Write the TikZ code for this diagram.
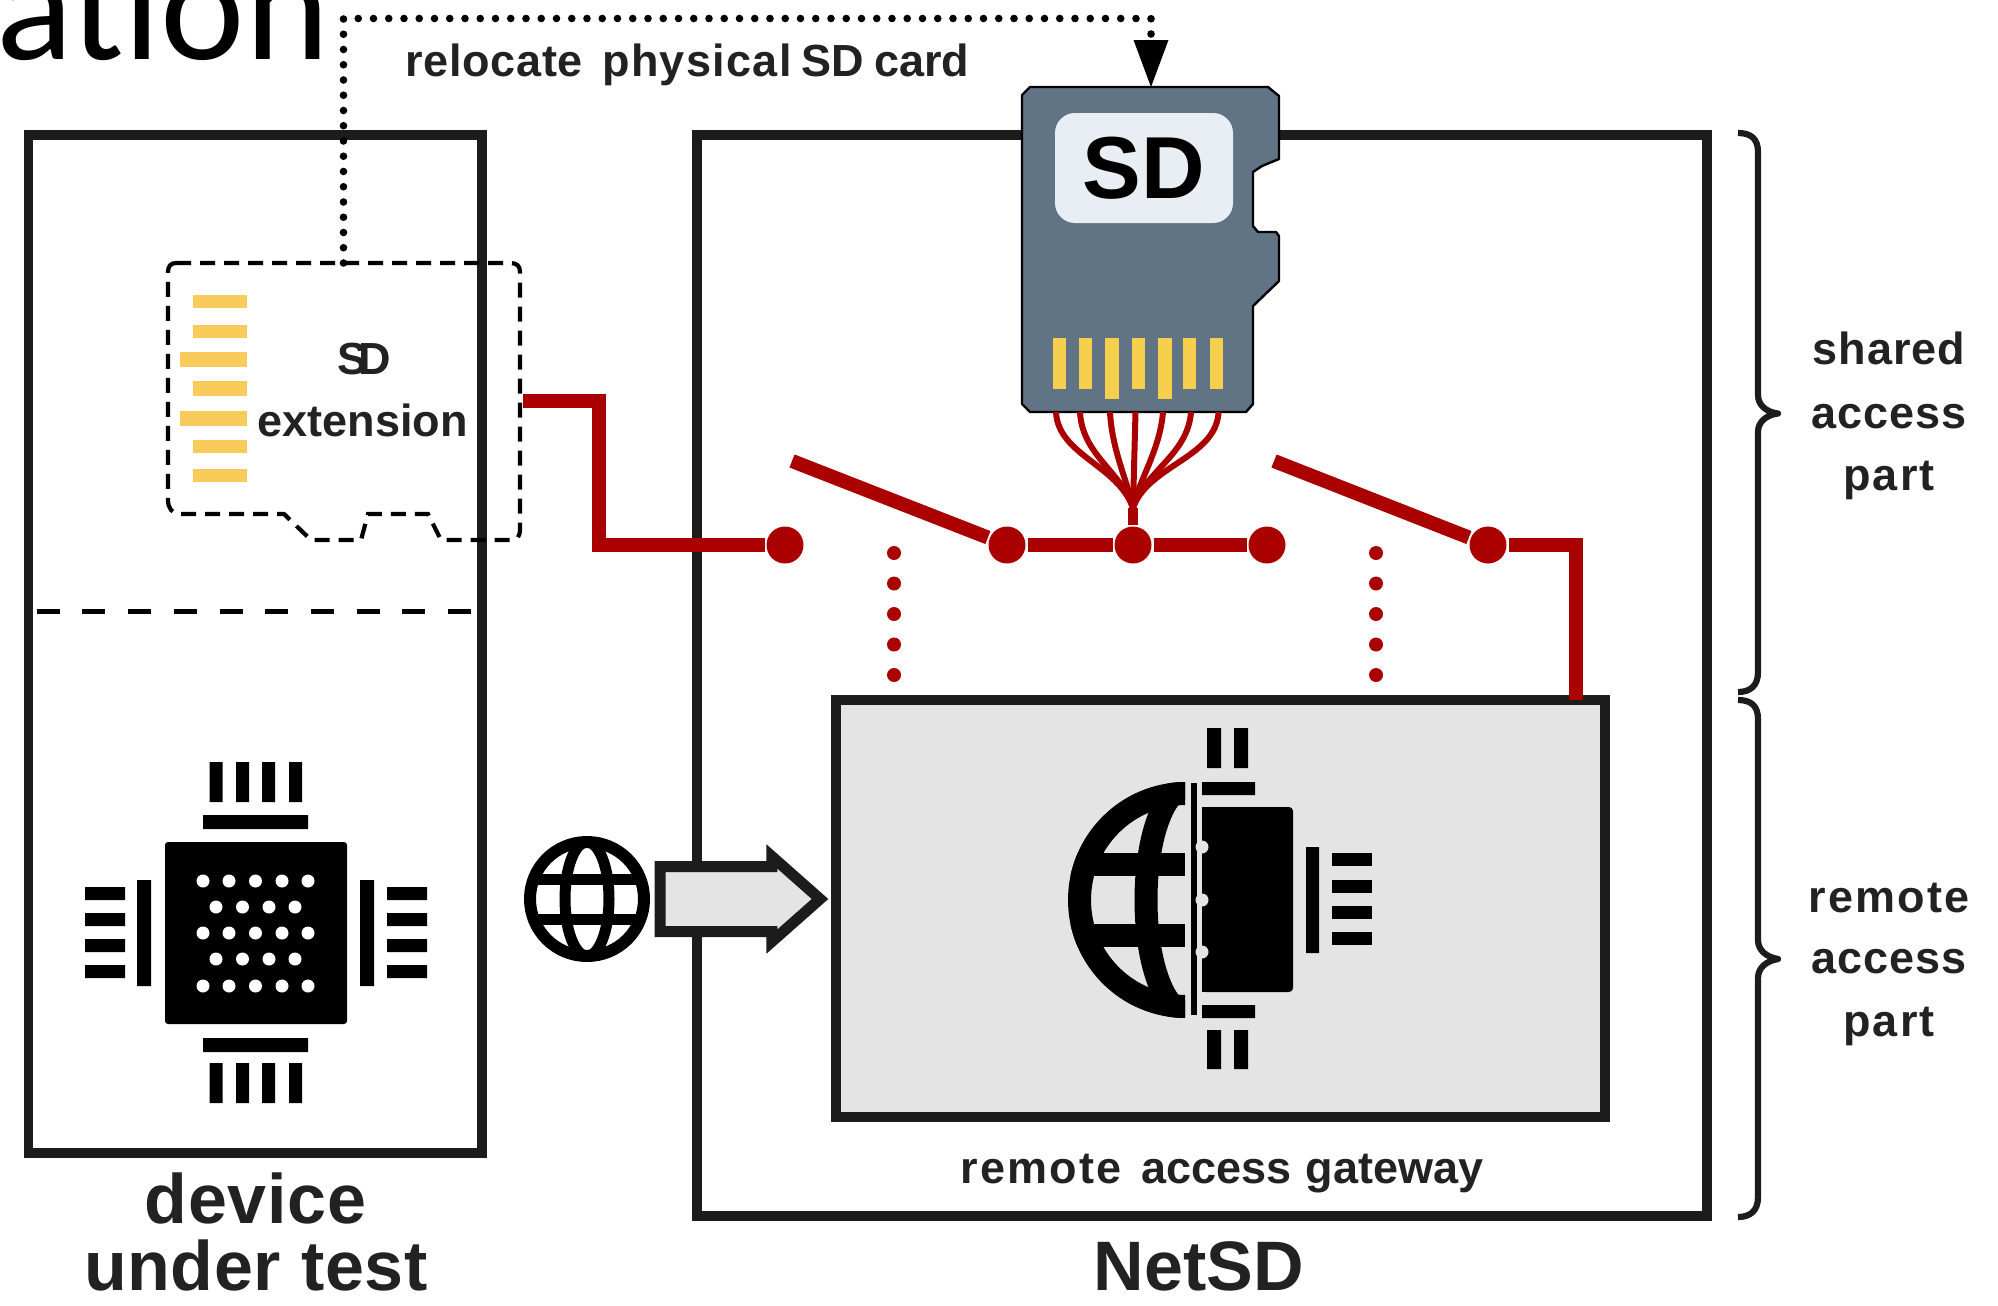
\documentclass[tikz,border=0pt]{standalone}
\usepackage{fontspec}
\setmainfont{Liberation Sans}
\newfontfamily\titlefont{Carlito}
\usetikzlibrary{arrows.meta,shapes.arrows}
\definecolor{ink}{HTML}{1C1C1C}
\definecolor{txt}{HTML}{222222}
\definecolor{wire}{HTML}{AB0000}
\definecolor{panel}{HTML}{E4E4E4}
\definecolor{cardgrey}{HTML}{607486}
\definecolor{cardlab}{HTML}{E8EEF3}
\definecolor{goldcard}{HTML}{F6D04D}
\definecolor{goldext}{HTML}{F8CB5A}
\tikzset{
  framebox/.style={draw=ink,line width=4.75pt,inner sep=0pt,outer sep=0pt},
  lab/.style={font=\bfseries\fontsize{22.5}{31.5}\selectfont,text=txt,inner sep=0pt,anchor=base},
  biglab/.style={font=\bfseries\fontsize{35}{33.5}\selectfont,text=txt,inner sep=0pt,anchor=base},
  redline/.style={draw=wire,line width=7pt,miter limit=10},
  pad/.style={circle,fill=wire,minimum size=18.5pt,inner sep=0pt,outer sep=1pt},
  mech/.style={draw=wire,line width=7pt,line cap=round,dash pattern=on 0pt off 15.25pt},
  fan/.style={draw=wire,line width=3pt},
  bracepath/.style={draw=ink,line width=3.1pt,line join=round},
  reloc/.style={draw=black,line width=3.8pt,line cap=round,dash pattern=on 0pt off 7.625pt,
    -{Triangle[length=23.5pt,width=17.5pt,line width=0pt]}},
}
\begin{document}
\begin{tikzpicture}[x=0.5pt,y=-0.5pt]
\clip (0,0) rectangle (1998,1306);
% title fragment
\node[font=\titlefont\fontsize{80}{82}\selectfont,anchor=base west,inner sep=0pt,text=black] (title) at (-4,59) {ation};
% main frames
\node[framebox,minimum width=226.75pt,minimum height=509pt,anchor=north west] (dut) at (28.5,135) {};
\node[framebox,minimum width=505pt,minimum height=540.5pt,anchor=north west] (netsd) at (697,135) {};
\node[framebox,fill=panel,minimum width=384.5pt,minimum height=208.5pt,anchor=north west] (gateway) at (836,700) {};
% divider in device under test
\coordinate (divA) at (36.7,611.7);
\coordinate (divB) at (471,611.7);
\draw[black,line width=2.5pt,dash pattern=on 11.5pt off 11.35pt] (divA) -- (divB);
% SD extension outline
\draw[black,line width=2.1pt,dash pattern=on 7.5pt off 4.5pt]
  (176,263) -- (510,263) .. controls (517,263) and (520,266) .. (520,272)
  -- (520,530) .. controls (520,536) and (517,540) .. (512,540)
  -- (441,540) -- (428,514) -- (368,514) -- (361,540) -- (311,540) -- (284,514) -- (180,514)
  .. controls (172,514) and (168,508) .. (168,500) -- (168,272) .. controls (168,266) and (171,263) .. (176,263);
\foreach \xa/\yy/\hh in {193/301.5/13,193/331/13,180/359/15,193/388.5/15,180/418/15,193/446/13,193/475/13}
  \fill[goldext] (\xa,\yy-\hh/2) rectangle (246.5,\yy+\hh/2);
\node[lab] (extSD) at (364,374) {S\kern-4.5pt D};
\node[lab] (extName) at (362.5,436) {extension};
% chip in the device
\fill[black,rounded corners=1.5pt] (165,842) rectangle (347,1024);
\fill[black] (203,815) rectangle (308,829) (203,1038) rectangle (308,1052)
  (137,880) rectangle (151,986) (360,880) rectangle (374,986);
\foreach \xa in {209.5,236,262,289} \fill[black] (\xa,762) rectangle (\xa+13,802) (\xa,1063) rectangle (\xa+13,1103);
\foreach \yy in {887,913,939,965} \fill[black] (85,\yy) rectangle (125,\yy+13) (387,\yy) rectangle (427,\yy+13);
\foreach \yy in {881,933,986} \foreach \xa in {203,229,255.5,282,308} \fill[white] (\xa,\yy) circle[radius=6.5];
\foreach \yy in {907,959} \foreach \xa in {216,242.5,269,295} \fill[white] (\xa,\yy) circle[radius=6.5];
% globe
\coordinate (globe) at (587,899);
\begin{scope}
  \clip (globe) circle[radius=62];
  \draw[black,line width=5.5pt] (530,879) -- (644,879) (530,919) -- (644,919);
  \draw[black,line width=5.5pt] (globe) ellipse[x radius=22,y radius=57];
\end{scope}
\draw[black,line width=6pt] (globe) circle[radius=57];
% arrow from globe to gateway
\node[single arrow,draw=ink,fill=panel,line width=5.5pt,inner xsep=0pt,inner ysep=13.5pt,outer sep=0pt,
  minimum height=80pt,single arrow head extend=5pt,single arrow tip angle=83,anchor=tail,miter limit=10] (netarrow) at (660,899) {};
% gateway icon
\begin{scope}
  \clip (1060,770) rectangle (1185,1030);
  \begin{scope}
    \clip (1186,900) circle[radius=118];
    \draw[black,line width=11.5pt] (1070,864) -- (1185,864) (1070,935) -- (1185,935);
    \draw[black,line width=11.5pt] (1186,900) ellipse[x radius=40,y radius=112];
  \end{scope}
  \draw[black,line width=11.5pt] (1186,900) circle[radius=106.5];
\end{scope}
\fill[black] (1191,783) rectangle (1197,1015);
\fill[black,rounded corners=2pt] (1202,807) -- (1293,807) -- (1293,992) -- (1202,992) -- cycle;
\fill[black] (1202,807) rectangle (1215,992);
\foreach \yy in {847,900,952} \fill[panel] (1202,\yy) circle[radius=6.5];
\fill[black] (1202,782) rectangle (1255,795) (1202,1005) rectangle (1255,1018)
  (1306,847) rectangle (1319,953);
\foreach \xa in {1207,1234} \fill[black] (\xa,728) rectangle (\xa+14,768) (\xa,1030) rectangle (\xa+14,1069);
\foreach \yy in {853,880,906,932} \fill[black] (1332,\yy) rectangle (1372,\yy+13);
% SD card
\path[draw=black,line width=1.2pt,fill=cardgrey,line join=round]
  (1030,87) -- (1268,87) -- (1279,96) -- (1279,159) -- (1262,166) -- (1253,172) -- (1253,226) -- (1258,232)
  -- (1276,232) -- (1279,236) -- (1279,281) -- (1253,306) -- (1253,404) -- (1246,412) -- (1030,412)
  -- (1022,404) -- (1022,95) -- cycle;
\node[fill=cardlab,rounded corners=10pt,minimum width=89pt,minimum height=55pt,inner sep=0pt,
  font=\bfseries\fontsize{44}{46}\selectfont,text=black] (cardSD) at (1144,168) {SD};
\foreach \xa/\xb/\yy in {1052.5/1065.5/389,1079/1092/389,1105/1119/399,1132/1145/389,1158/1171.5/399,1183/1196/389,1210/1223/389}
  \fill[goldcard] (\xa,337.5) rectangle (\xb,\yy);
% switches
\node[pad] (sw1in) at (785,545) {};
\node[pad] (sw1out) at (1007,545) {};
\node[pad] (hub) at (1133,545) {};
\node[pad] (sw2in) at (1267,545) {};
\node[pad] (sw2out) at (1488,545) {};
\coordinate (extPort) at (523,401);
\coordinate (bendA) at (599,401);
\coordinate (arm1) at (792,461);
\coordinate (arm2) at (1274,461);
\coordinate (gwPort) at (1576,700);
\draw[redline] (extPort) -- (bendA) |- (sw1in);
\draw[redline] (sw1out) -- (hub);
\draw[redline] (hub) -- (sw2in);
\draw[redline] (arm1) -- (sw1out);
\draw[redline] (arm2) -- (sw2out);
\draw[redline] (sw2out) -| (gwPort);
\coordinate (mechA) at (894,553);
\coordinate (mechB) at (894,675.5);
\coordinate (mechC) at (1376,553);
\coordinate (mechD) at (1376,675.5);
\draw[mech] (mechA) -- (mechB);
\draw[mech] (mechC) -- (mechD);
% fan of wires from the card to the hub
\coordinate (fanJoin) at (1133,508);
\draw[fan] (1056,412) .. controls (1058,455) and (1118,465) .. (fanJoin);
\draw[fan] (1080,412) .. controls (1082,455) and (1122,472) .. (fanJoin);
\draw[fan] (1110,412) .. controls (1112,450) and (1127,480) .. (fanJoin);
\draw[fan] (1135.5,412) -- (fanJoin);
\draw[fan] (1163,412) .. controls (1160,450) and (1139,480) .. (fanJoin);
\draw[fan] (1191,412) .. controls (1188,455) and (1144,472) .. (fanJoin);
\draw[fan] (1218.6,412) .. controls (1216,458) and (1148,465) .. (fanJoin);
\draw[draw=wire,line width=5pt] (fanJoin) -- (hub);
% relocate connector
\coordinate (extTop) at (343.5,263);
\coordinate (cardTop) at (1151,87);
\coordinate (relCorner) at (343.5,18.5);
\draw[reloc] (extTop) -- (relCorner) -| (cardTop);
\node[lab,anchor=base west] (relocLab) at (405,76) {{\addfontfeature{LetterSpace=1.5}relocate}\ \kern3.5pt {\addfontfeature{LetterSpace=3}physical}\kern-1.5pt\ SD\kern-1pt\ card};
% braces
\draw[bracepath] (1738,133) .. controls (1750,133) and (1758,138) .. (1758,152) -- (1758,395)
  .. controls (1758,405) and (1766,412) .. (1778,413.5) .. controls (1766,415) and (1758,422) .. (1758,432)
  -- (1758,672) .. controls (1758,686) and (1750,692) .. (1738,692);
\draw[bracepath] (1738,700) .. controls (1750,700) and (1758,705) .. (1758,719) -- (1758,940)
  .. controls (1758,950) and (1766,957) .. (1778,959) .. controls (1766,961) and (1758,968) .. (1758,978)
  -- (1758,1197) .. controls (1758,1211) and (1750,1217) .. (1738,1217);
% labels
\node[lab] (shared1) at (1889,364.5) {\addfontfeature{LetterSpace=2}shared};
\node[lab] (shared2) at (1889,428) {\addfontfeature{LetterSpace=2}access};
\node[lab] (shared3) at (1889,490) {\addfontfeature{LetterSpace=5}part};
\node[lab] (remote1) at (1889,912) {\addfontfeature{LetterSpace=5}remote};
\node[lab] (remote2) at (1889,973) {\addfontfeature{LetterSpace=2}access};
\node[lab] (remote3) at (1889,1036) {\addfontfeature{LetterSpace=5}part};
\node[lab,anchor=base west] (gwLab) at (960,1183) {{\addfontfeature{LetterSpace=5}remote}\ \kern3.5pt access\ \kern1pt gateway};
\node[biglab] (dut1) at (255.5,1223) {\addfontfeature{LetterSpace=1}device};
\node[biglab] (dut2) at (256,1290) {\addfontfeature{LetterSpace=1}under test};
\node[biglab] (netLab) at (1199,1290) {NetSD};
\end{tikzpicture}
\end{document}
